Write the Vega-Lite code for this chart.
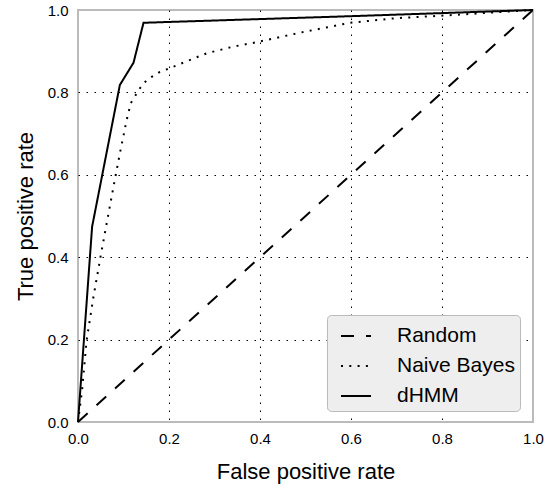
{
  "$schema": "https://vega.github.io/schema/vega-lite/v6.json",
  "width": 455,
  "height": 412,
  "autosize": {"type": "none"},
  "padding": {"left": 78, "top": 10, "right": 25, "bottom": 66},
  "background": "white",
  "config": {
    "font": "Liberation Sans",
    "view": {"stroke": "#bbbbbb", "strokeWidth": 2},
    "axis": {
      "domain": false,
      "ticks": false,
      "gridColor": "black",
      "gridDash": [1.5, 6.5],
      "gridWidth": 1,
      "labelFontSize": 15,
      "labelColor": "black",
      "labelFlush": false,
      "labelOverlap": false,
      "titleFontSize": 22,
      "titleFontWeight": "normal",
      "titleColor": "black"
    }
  },
  "data": {
    "values": [
      {"series": "Random", "i": 0, "fpr": 0, "tpr": 0},
      {"series": "Random", "i": 1, "fpr": 1, "tpr": 1},
      {"series": "Naive Bayes", "i": 0, "fpr": 0, "tpr": 0},
      {"series": "Naive Bayes", "i": 1, "fpr": 0.009, "tpr": 0.078},
      {"series": "Naive Bayes", "i": 2, "fpr": 0.019, "tpr": 0.199},
      {"series": "Naive Bayes", "i": 3, "fpr": 0.034, "tpr": 0.304},
      {"series": "Naive Bayes", "i": 4, "fpr": 0.05, "tpr": 0.404},
      {"series": "Naive Bayes", "i": 5, "fpr": 0.063, "tpr": 0.482},
      {"series": "Naive Bayes", "i": 6, "fpr": 0.078, "tpr": 0.571},
      {"series": "Naive Bayes", "i": 7, "fpr": 0.092, "tpr": 0.652},
      {"series": "Naive Bayes", "i": 8, "fpr": 0.107, "tpr": 0.733},
      {"series": "Naive Bayes", "i": 9, "fpr": 0.116, "tpr": 0.774},
      {"series": "Naive Bayes", "i": 10, "fpr": 0.136, "tpr": 0.81},
      {"series": "Naive Bayes", "i": 11, "fpr": 0.151, "tpr": 0.83},
      {"series": "Naive Bayes", "i": 12, "fpr": 0.18, "tpr": 0.85},
      {"series": "Naive Bayes", "i": 13, "fpr": 0.2, "tpr": 0.858},
      {"series": "Naive Bayes", "i": 14, "fpr": 0.231, "tpr": 0.872},
      {"series": "Naive Bayes", "i": 15, "fpr": 0.283, "tpr": 0.895},
      {"series": "Naive Bayes", "i": 16, "fpr": 0.341, "tpr": 0.911},
      {"series": "Naive Bayes", "i": 17, "fpr": 0.393, "tpr": 0.922},
      {"series": "Naive Bayes", "i": 18, "fpr": 0.488, "tpr": 0.945},
      {"series": "Naive Bayes", "i": 19, "fpr": 0.598, "tpr": 0.969},
      {"series": "Naive Bayes", "i": 20, "fpr": 0.697, "tpr": 0.98},
      {"series": "Naive Bayes", "i": 21, "fpr": 0.796, "tpr": 0.986},
      {"series": "Naive Bayes", "i": 22, "fpr": 1, "tpr": 1},
      {"series": "dHMM", "i": 0, "fpr": 0, "tpr": 0},
      {"series": "dHMM", "i": 1, "fpr": 0.031, "tpr": 0.474},
      {"series": "dHMM", "i": 2, "fpr": 0.092, "tpr": 0.818},
      {"series": "dHMM", "i": 3, "fpr": 0.122, "tpr": 0.872},
      {"series": "dHMM", "i": 4, "fpr": 0.144, "tpr": 0.969},
      {"series": "dHMM", "i": 5, "fpr": 0.6, "tpr": 0.985},
      {"series": "dHMM", "i": 6, "fpr": 1, "tpr": 1}
    ]
  },
  "mark": {"type": "line", "color": "black", "strokeWidth": 2, "strokeCap": "butt"},
  "encoding": {
    "x": {
      "field": "fpr",
      "type": "quantitative",
      "scale": {"domain": [0, 1], "nice": false},
      "axis": {
        "title": "False positive rate",
        "values": [0, 0.2, 0.4, 0.6, 0.8, 1],
        "format": ".1f",
        "labelPadding": 9,
        "titleBaseline": "alphabetic",
        "titleY": 56,
        "gridOpacity": {"condition": {"test": "datum.value === 0 || datum.value === 1", "value": 0}, "value": 1}
      }
    },
    "y": {
      "field": "tpr",
      "type": "quantitative",
      "scale": {"domain": [0, 1], "nice": false},
      "axis": {
        "title": "True positive rate",
        "values": [0, 0.2, 0.4, 0.6, 0.8, 1],
        "format": ".1f",
        "labelPadding": 10,
        "titleBaseline": "alphabetic",
        "titleX": -46,
        "gridOpacity": {"condition": {"test": "datum.value === 0 || datum.value === 1", "value": 0}, "value": 1}
      }
    },
    "strokeDash": {
      "field": "series",
      "type": "nominal",
      "scale": {"domain": ["Random", "Naive Bayes", "dHMM"], "range": [[13, 12], [2, 6.3], [1, 0]]},
      "legend": {
        "title": null,
        "orient": "none",
        "legendX": 249,
        "legendY": 305,
        "fillColor": "#eeeeee",
        "strokeColor": "#bbbbbb",
        "cornerRadius": 4,
        "padding": 5,
        "symbolType": "stroke",
        "symbolSize": 900,
        "symbolStrokeWidth": 2,
        "symbolStrokeColor": "black",
        "symbolOffset": 8,
        "labelOffset": 25,
        "labelFontSize": 21,
        "labelColor": "black",
        "rowPadding": 4
      }
    },
    "order": {"field": "i", "type": "quantitative"}
  }
}
